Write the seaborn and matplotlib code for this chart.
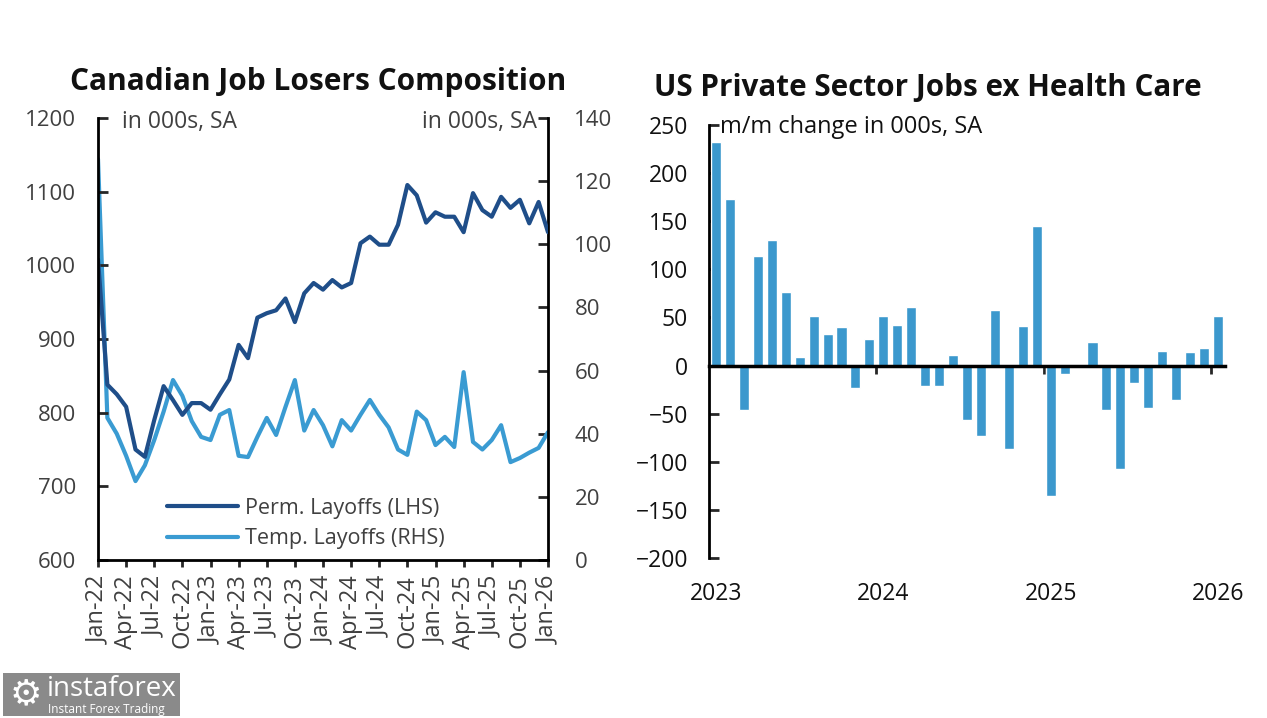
import matplotlib

matplotlib.use("Agg")
import matplotlib.pyplot as plt
import numpy as np
import pandas as pd
import seaborn as sns
from matplotlib.patches import Rectangle

# ---------------------------------------------------------------------------
# Data
# ---------------------------------------------------------------------------

# Canadian job losers, monthly Jan-22 .. Jan-26 (49 points)
perm_layoffs = [
    1008, 838, 825, 808, 750, 740, 790, 836, 817, 797, 813, 813, 804,
    825, 845, 892, 874, 929, 935, 939, 955, 923, 962, 976, 967, 980,
    970, 976, 1030, 1039, 1028, 1028, 1055, 1109, 1095, 1058, 1072, 1066,
    1066, 1045, 1098, 1075, 1066, 1093, 1078, 1089, 1057, 1086, 1045,
]
temp_layoffs = [
    127, 45, 40, 33, 25, 30, 38, 47, 57, 52, 44, 39, 38,
    46, 47.5, 33, 32.6, 39, 45, 39.6, 48.5, 57, 41, 47.5, 42.7, 36,
    44.3, 41, 46, 50.7, 46, 42, 35, 33.3, 47, 44.3, 36.4, 39,
    35.8, 59.5, 37.4, 35, 38, 42.7, 31, 32.3, 34, 35.5, 40.5,
]
ca_tick_labels = [
    "Jan-22", "Apr-22", "Jul-22", "Oct-22", "Jan-23", "Apr-23", "Jul-23",
    "Oct-23", "Jan-24", "Apr-24", "Jul-24", "Oct-24", "Jan-25", "Apr-25",
    "Jul-25", "Oct-25", "Jan-26",
]

# US private sector jobs ex health care, m/m change, Jan-23 .. Jan-26
us_jobs = [
    232, 173, -46, 114, 130, 76, 8.5, 51, 33, 40, -23, 28,
    52, 42, 60.5, -21, -21.5, 11, -57, -73, 57.7, -87, 41.4, 145,
    -136, -9, -2, 25, -46, -107, -18.5, -44, 15.5, -36, 14.5, 18,
    51.5,
]
us_year_labels = ["2023", "2024", "2025", "2026"]

DARK = "#1f4e89"
LIGHT = "#3a9bd2"
BAR = "#3b98cd"
GREY = "#404040"

sns.set_style("white")
plt.rcParams["font.family"] = ["Open Sans", "DejaVu Sans"]

fig = plt.figure(figsize=(12.67, 7.18), dpi=100)

# ---------------------------------------------------------------------------
# Left: Canadian job losers
# ---------------------------------------------------------------------------

ca = pd.DataFrame({
    "m": np.arange(len(perm_layoffs)),
    "perm": perm_layoffs,
    "temp": temp_layoffs,
})

ax = fig.add_axes([98 / 1267, 158 / 718, 450 / 1267, 442 / 718])
ax2 = ax.twinx()
sns.lineplot(data=ca, x="m", y="perm", ax=ax, color=DARK, lw=3, legend=False)
sns.lineplot(data=ca, x="m", y="temp", ax=ax2, color=LIGHT, lw=3, legend=False)
ax.set_zorder(ax2.get_zorder() + 1)
ax.patch.set_visible(False)

ax.set_xlim(0, 48)
ax.set_ylim(600, 1200)
ax2.set_ylim(0, 140)
ax.set_yticks(range(600, 1201, 100))
ax2.set_yticks(range(0, 141, 20))
ax.set_xticks(range(0, 49, 3), ca_tick_labels, rotation=90)
ax.set_xlabel("")
ax.set_ylabel("")
ax2.set_ylabel("")

for a in (ax, ax2):
    for s in a.spines.values():
        s.set_color("black")
        s.set_linewidth(2)
    a.spines["top"].set_visible(False)
ax.spines["right"].set_visible(False)
ax2.spines["left"].set_visible(False)
ax2.spines["bottom"].set_visible(False)

ax.tick_params(axis="y", direction="in", length=7, width=2, pad=16,
               labelsize=16, labelcolor=GREY, left=True)
ax.tick_params(axis="x", direction="out", length=5, width=2, pad=6,
               labelsize=17, labelcolor=GREY, bottom=True)
ax2.tick_params(axis="y", direction="in", length=7, width=2, pad=19,
                labelsize=16, labelcolor=GREY, right=True)

ax.text(0.053, 0.99, "in 000s, SA", transform=ax.transAxes, ha="left",
        va="center", fontsize=16.5, color=GREY)
ax.text(0.975, 0.99, "in 000s, SA", transform=ax.transAxes, ha="right",
        va="center", fontsize=16.5, color=GREY)

ax.legend(
    [ax.get_lines()[0], ax2.get_lines()[0]],
    ["Perm. Layoffs (LHS)", "Temp. Layoffs (RHS)"],
    loc="upper left",
    bbox_to_anchor=(0.11, 0.185),
    frameon=False,
    fontsize=15.5,
    labelcolor=GREY,
    handlelength=3.3,
    handletextpad=0.35,
    labelspacing=0.45,
)

fig.text(318 / 1267, 1 - 82 / 718, "Canadian Job Losers Composition",
         ha="center", va="center", fontsize=21.5, fontweight="bold", color="#111111")

# ---------------------------------------------------------------------------
# Right: US private sector jobs ex health care
# ---------------------------------------------------------------------------

us = pd.DataFrame({
    "month": pd.date_range("2023-01-01", periods=len(us_jobs), freq="MS").strftime("%Y-%m"),
    "change": us_jobs,
})

bx = fig.add_axes([709 / 1267, 160 / 718, 516 / 1267, 433 / 718])
sns.barplot(data=us, x="month", y="change", ax=bx, color=BAR, width=0.72,
            saturation=1)
bx.set_xlim(-0.5, len(us_jobs) - 0.5)
bx.set_ylim(-200, 250)
bx.set_yticks(range(-200, 251, 50))
bx.set_xlabel("")
bx.set_ylabel("")

bx.spines["top"].set_visible(False)
bx.spines["right"].set_visible(False)
bx.spines["left"].set_color("black")
bx.spines["left"].set_linewidth(2)
bx.spines["bottom"].set_position(("data", 0))
bx.spines["bottom"].set_color("black")
bx.spines["bottom"].set_linewidth(2.5)
bx.spines["bottom"].set_zorder(5)

bx.set_xticks([])
bx.set_xticks([11.5, 23.5, 35.5], minor=True)
bx.tick_params(axis="x", which="minor", direction="out", length=6, width=2,
               bottom=True, labelbottom=False)
bx.tick_params(axis="y", direction="in", length=7, width=2, pad=15,
               labelsize=16.5, labelcolor="#111111", left=True)

sec = bx.secondary_xaxis(0)
sec.set_xticks([0, 12, 24, 36], us_year_labels)
sec.tick_params(length=0, pad=17, labelsize=16.5, labelcolor="#111111")
sec.spines["bottom"].set_visible(False)

bx.text(0.021, 0.995, "m/m change in 000s, SA", transform=bx.transAxes,
        ha="left", va="center", fontsize=17, color="#111111")

fig.text(928 / 1267, 1 - 88 / 718, "US Private Sector Jobs ex Health Care",
         ha="center", va="center", fontsize=21.3, fontweight="bold", color="#111111")

# ---------------------------------------------------------------------------
# Watermark
# ---------------------------------------------------------------------------

fig.add_artist(Rectangle((3 / 1267, 2 / 718), 177 / 1267, 43 / 718,
                         transform=fig.transFigure, color="#8a8a8a", lw=0))
fig.text(26 / 1267, 1 - 694 / 718, "\u2699", ha="center", va="center",
         fontsize=26, color="white", family="DejaVu Sans")
fig.text(47 / 1267, 1 - 689 / 718, "instaforex", ha="left", va="center",
         fontsize=20, color="white")
fig.text(48 / 1267, 1 - 709 / 718, "Instant Forex Trading", ha="left",
         va="center", fontsize=8.5, color="white")

fig.savefig("out.png", dpi=100)
plt.close(fig)
